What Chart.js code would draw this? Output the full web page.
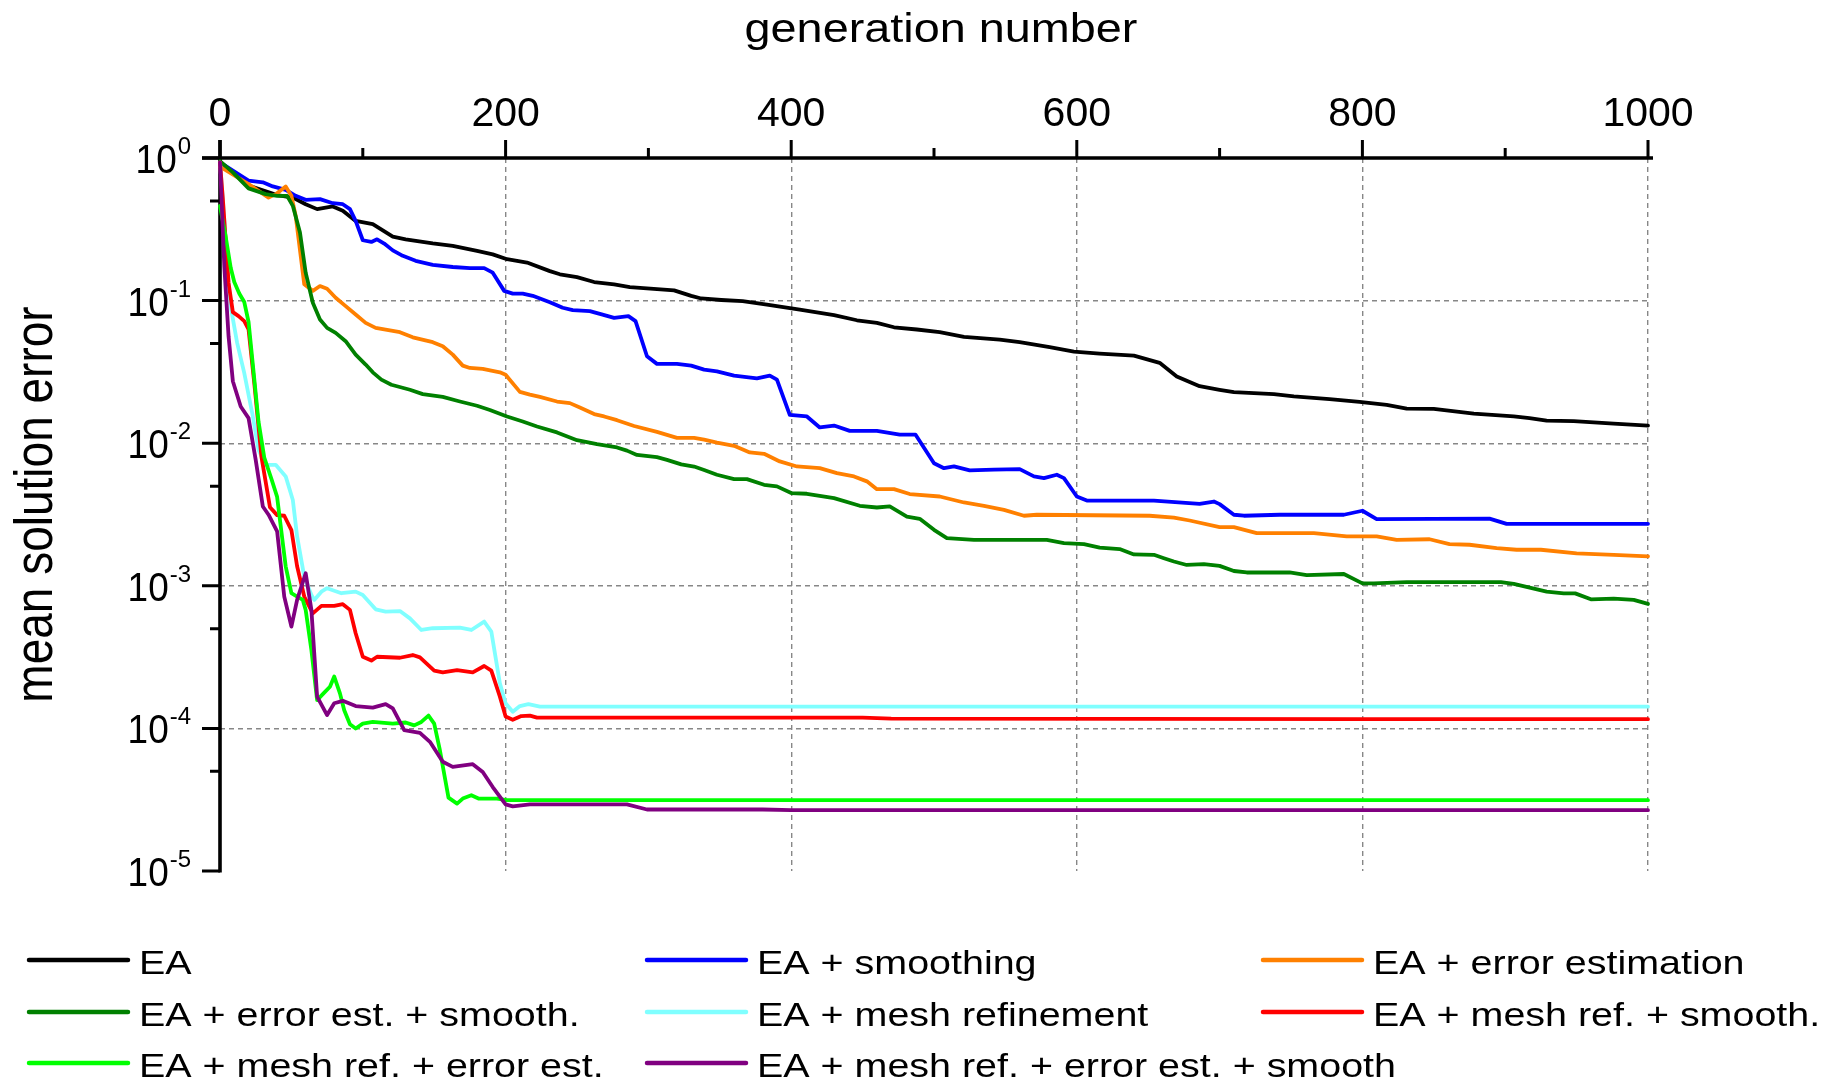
<!DOCTYPE html>
<html>
<head>
<meta charset="utf-8">
<script src="https://cdn.jsdelivr.net/npm/chart.js@4.4.1/dist/chart.umd.min.js"></script>
<style>
  html, body { margin: 0; padding: 0; background: #fff; }
  #wrap { width: 1841px; height: 1083px; }
</style>
</head>
<body>
<div id="wrap"><canvas id="chart" width="1841" height="1083"></canvas></div>
<script>
// mean solution error over the generations, one [generation, error] list per run
const runEA = [[0,0.933],[20,0.64],[40,0.55],[51,0.528],[60,0.474],[68,0.438],[79,0.457],[86,0.427],[95,0.362],[107,0.344],[121,0.281],[130,0.269],[149,0.252],[163,0.242],[180,0.223],[191,0.211],[201,0.195],[215,0.185],[231,0.161],[238,0.153],[250,0.146],[262,0.135],[276,0.130],[287,0.1245],[318,0.118],[330,0.108],[337,0.1035],[351,0.101],[366,0.0991],[383,0.0938],[406,0.0865],[430,0.0791],[446,0.0728],[460,0.0698],[472,0.0650],[488,0.0627],[504,0.0600],[521,0.0556],[546,0.0533],[560,0.0511],[581,0.0471],[598,0.0439],[616,0.0425],[640,0.0411],[658,0.0366],[670,0.0294],[686,0.0251],[700,0.0237],[710,0.0228],[738,0.0221],[752,0.0213],[777,0.0204],[798,0.0195],[817,0.0186],[831,0.0175],[850,0.0174],[878,0.0161],[906,0.0154],[917,0.0150],[929,0.0144],[948,0.0143],[976,0.0137],[1000,0.0133]];

const runSmooth = [[0,0.933],[9,0.815],[20,0.693],[30,0.675],[37,0.632],[46,0.598],[53,0.543],[60,0.509],[70,0.515],[79,0.482],[86,0.474],[91,0.438],[95,0.362],[100,0.265],[106,0.258],[110,0.269],[115,0.251],[121,0.225],[128,0.206],[137,0.190],[149,0.178],[163,0.172],[175,0.169],[185,0.169],[191,0.157],[199,0.117],[205,0.112],[212,0.112],[219,0.108],[231,0.0975],[240,0.0891],[247,0.0857],[259,0.0843],[266,0.0807],[276,0.0757],[286,0.0778],[291,0.0718],[299,0.0407],[306,0.0360],[320,0.0360],[330,0.0350],[339,0.0328],[348,0.0319],[360,0.0298],[376,0.0285],[385,0.0298],[390,0.0279],[399,0.0158],[411,0.0154],[420,0.0129],[430,0.0133],[441,0.0122],[460,0.0122],[476,0.0115],[487,0.0115],[500,0.00724],[507,0.00668],[514,0.00687],[525,0.00644],[542,0.00652],[560,0.00658],[570,0.00585],[577,0.00569],[586,0.00601],[591,0.00569],[600,0.00423],[607,0.00396],[654,0.00396],[686,0.00376],[696,0.00390],[700,0.00374],[710,0.00315],[717,0.0031],[742,0.00315],[787,0.00315],[800,0.00336],[810,0.00293],[889,0.00296],[901,0.00272],[1000,0.00272]];

const runErrEst = [[0,0.87],[20,0.656],[34,0.528],[39,0.558],[46,0.632],[50,0.543],[53,0.393],[59,0.130],[65,0.117],[70,0.1265],[75,0.121],[81,0.1047],[88,0.0914],[95,0.0800],[102,0.0698],[109,0.0644],[126,0.0600],[135,0.0553],[149,0.0511],[156,0.0479],[163,0.0418],[170,0.0350],[175,0.0337],[184,0.0332],[196,0.0314],[200,0.0302],[210,0.0229],[217,0.0219],[224,0.0211],[236,0.0196],[245,0.0191],[252,0.0178],[262,0.0160],[269,0.0154],[278,0.0145],[290,0.0132],[306,0.0120],[320,0.0109],[332,0.0109],[339,0.0106],[348,0.0101],[360,0.00959],[371,0.00861],[381,0.00843],[392,0.00745],[404,0.00687],[420,0.00668],[432,0.00617],[444,0.00585],[453,0.00540],[460,0.00476],[472,0.00476],[483,0.00440],[504,0.00423],[521,0.00384],[535,0.00364],[549,0.00341],[563,0.00310],[572,0.00315],[651,0.0031],[668,0.00301],[679,0.00287],[700,0.00258],[710,0.00258],[726,0.00234],[766,0.00234],[789,0.00222],[810,0.00222],[824,0.00210],[847,0.00212],[861,0.00196],[875,0.00194],[894,0.00184],[908,0.00179],[925,0.00179],[950,0.00169],[976,0.00165],[1000,0.00161]];

const runErrEstSmooth = [[0,0.95],[9,0.793],[20,0.612],[32,0.558],[40,0.543],[47,0.543],[51,0.462],[56,0.300],[60,0.157],[65,0.0966],[70,0.0738],[75,0.0644],[81,0.0594],[88,0.0519],[95,0.0418],[102,0.0356],[107,0.0314],[113,0.0279],[120,0.0257],[133,0.0237],[142,0.0221],[156,0.0211],[168,0.0196],[180,0.0183],[189,0.0171],[201,0.0154],[212,0.0142],[222,0.0131],[236,0.0119],[250,0.0105],[264,0.00984],[278,0.00933],[285,0.00887],[292,0.00828],[306,0.00798],[313,0.00764],[323,0.00711],[332,0.00686],[339,0.00649],[348,0.00601],[360,0.00560],[369,0.00560],[381,0.00511],[390,0.00498],[400,0.00447],[411,0.00442],[430,0.00412],[448,0.00364],[460,0.00354],[469,0.0036],[481,0.00306],[490,0.00295],[500,0.00247],[509,0.00216],[528,0.00210],[579,0.00210],[591,0.00199],[605,0.00196],[616,0.00185],[630,0.00181],[640,0.00166],[654,0.00165],[661,0.00156],[668,0.00148],[677,0.00140],[689,0.00142],[700,0.00138],[710,0.00127],[719,0.00124],[749,0.00124],[761,0.00119],[787,0.00121],[800,0.00104],[808,0.00104],[831,0.00106],[897,0.00106],[906,0.00103],[929,0.00091],[941,0.000885],[949,0.000885],[960,0.000804],[976,0.000813],[990,0.000796],[1000,0.000746]];

const runMesh = [[0,0.93],[2,0.515],[6,0.133],[8,0.085],[12,0.0505],[17,0.0310],[23,0.0154],[27,0.00897],[32,0.00705],[39,0.00705],[46,0.00585],[51,0.0040],[54,0.00222],[59,0.00116],[64,0.000863],[66,0.000796],[71,0.00091],[75,0.000962],[85,0.000887],[95,0.00091],[100,0.000863],[109,0.000684],[116,0.000659],[126,0.000665],[133,0.000591],[141,0.00049],[149,0.000504],[168,0.000509],[176,0.00049],[185,0.000561],[190,0.000477],[196,0.000207],[200,0.00015],[205,0.000131],[210,0.0001435],[216,0.000148],[224,0.000142],[1000,0.000142]];

const runMeshSmooth = [[0,0.93],[2,0.515],[6,0.133],[9,0.083],[13,0.0778],[17,0.0718],[20,0.0627],[24,0.0264],[29,0.00805],[35,0.00355],[40,0.00313],[45,0.0031],[50,0.00246],[54,0.00137],[59,0.000841],[65,0.000641],[71,0.000723],[80,0.000723],[86,0.000743],[91,0.000678],[95,0.000465],[100,0.000318],[106,0.000299],[110,0.000318],[126,0.000313],[135,0.000327],[140,0.000315],[150,0.000254],[156,0.000247],[166,0.000256],[177,0.000247],[185,0.000274],[190,0.000254],[196,0.000167],[200,0.000121],[205,0.000115],[211,0.000122],[217,0.000123],[222,0.000119],[450,0.000119],[470,0.000117],[800,0.000116],[1000,0.000116]];

const runMeshErrEst = [[0,0.462],[4,0.28],[7.5,0.17],[10,0.135],[13.5,0.112],[17,0.0977],[20,0.0708],[23,0.0355],[27,0.0141],[31,0.00794],[36,0.00562],[40,0.0042],[44,0.00199],[46,0.00137],[50,0.000887],[54,0.00084],[58,0.000796],[60,0.000676],[64,0.000355],[68,0.000158],[73,0.000178],[77,0.000196],[80,0.000231],[84,0.000176],[87,0.000134],[91,0.000107],[95,0.0000998],[100,0.000108],[107,0.000111],[121,0.000108],[130,0.00011],[136,0.000105],[141,0.000111],[146,0.000123],[150,0.000108],[154,0.0000703],[160,0.0000327],[166,0.0000297],[170,0.0000322],[176,0.000034],[181,0.0000322],[194,0.0000322],[201,0.0000314],[1000,0.0000314]];

const runAll = [[0,0.93],[3,0.175],[6,0.0562],[9,0.0272],[14.5,0.0181],[20,0.0150],[25,0.00764],[30,0.0036],[34,0.00315],[40,0.00241],[45,0.00084],[50,0.000518],[54,0.000796],[60,0.001225],[64,0.000678],[68,0.000167],[75,0.000124],[80,0.00015],[86,0.000156],[95,0.0001435],[107,0.00014],[116,0.000148],[121,0.000138],[129,0.0000973],[140,0.0000931],[147,0.0000805],[156,0.0000583],[163,0.0000537],[177,0.0000561],[184,0.0000495],[191,0.0000388],[200,0.0000293],[205,0.0000284],[217,0.0000293],[285,0.0000293],[299,0.000027],[380,0.000027],[400,0.0000267],[1000,0.0000267]];

const runs = [runEA, runSmooth, runErrEst, runErrEstSmooth, runMesh, runMeshSmooth, runMeshErrEst, runAll];
const runLabels = [
  'EA', 'EA + smoothing', 'EA + error estimation',
  'EA + error est. + smooth.', 'EA + mesh refinement', 'EA + mesh ref. + smooth.',
  'EA + mesh ref. + error est.', 'EA + mesh ref. + error est. + smooth'
];
const runColors = ['#000000', '#0000ff', '#ff8000', '#008000', '#80ffff', '#ff0000', '#00ff00', '#800080'];

const genMajor = [0, 200, 400, 600, 800, 1000];
const genMinor = [100, 300, 500, 700, 900];
const errDecades = [1, 1e-1, 1e-2, 1e-3, 1e-4, 1e-5];
const errExponents = ['0', '-1', '-2', '-3', '-4', '-5'];
const errMinor = [5e-1, 5e-2, 5e-3, 5e-4, 5e-5];
const xTitle = 'generation number';
const yTitle = 'mean solution error';

const FONT = '"Liberation Sans", Arial, sans-serif';
const GRID = '#878787';

function drawText(ctx, txt, x, y, size, sx, align, rotate) {
  ctx.save();
  ctx.translate(x, y);
  ctx.scale(sx, 1);
  if (rotate) ctx.rotate(-Math.PI / 2);
  ctx.font = size + 'px ' + FONT;
  ctx.textAlign = align;
  ctx.textBaseline = 'alphabetic';
  ctx.fillStyle = '#000';
  ctx.fillText(txt, 0, 0);
  ctx.restore();
}

// axis lines, tick marks, labels, titles and the 3-column legend
const framePlugin = {
  id: 'frame',
  beforeDatasetsDraw(chart) {
    const { ctx, scales: { x, y } } = chart;
    const top = y.getPixelForValue(1), bottom = y.getPixelForValue(1e-5);
    const left = x.getPixelForValue(0), right = x.getPixelForValue(1000);
    ctx.save();
    ctx.strokeStyle = '#000';
    ctx.lineWidth = 3.6;
    ctx.beginPath();
    ctx.moveTo(left - 18, top); ctx.lineTo(right + 5, top);
    ctx.moveTo(left, top - 18); ctx.lineTo(left, bottom + 1.5);
    ctx.stroke();
    ctx.lineWidth = 3;
    ctx.beginPath();
    genMajor.forEach(g => { const px = x.getPixelForValue(g); ctx.moveTo(px, top); ctx.lineTo(px, top - 18); });
    genMinor.forEach(g => { const px = x.getPixelForValue(g); ctx.moveTo(px, top); ctx.lineTo(px, top - 10); });
    errDecades.forEach(v => { const py = y.getPixelForValue(v); ctx.moveTo(left, py); ctx.lineTo(left - 18, py); });
    errMinor.forEach(v => { const py = y.getPixelForValue(v); ctx.moveTo(left, py); ctx.lineTo(left - 10, py); });
    ctx.stroke();
    ctx.restore();
  },
  afterDraw(chart) {
    const { ctx, scales: { x, y } } = chart;
    const top = y.getPixelForValue(1), bottom = y.getPixelForValue(1e-5);
    const left = x.getPixelForValue(0), right = x.getPixelForValue(1000);

    genMajor.forEach(g => drawText(ctx, String(g), x.getPixelForValue(g), top - 32, 41, 1, 'center'));

    errDecades.forEach((v, i) => {
      const py = y.getPixelForValue(v);
      ctx.font = '24px ' + FONT;
      const expW = ctx.measureText(errExponents[i]).width;
      const edge = 191 - expW;
      drawText(ctx, errExponents[i], edge, py - 4, 24, 1, 'left');
      drawText(ctx, '10', edge - 1, py + 15, 41, 0.9, 'right');
    });

    drawText(ctx, xTitle, (left + right) / 2 + 7, 42, 40, 1.17, 'center');
    drawText(ctx, yTitle, 52, (top + bottom) / 2 - 10, 46, 1.15, 'center', true);

    // legend
    const lineX = [29, 647, 1263];
    const textX = [139, 757, 1373];
    const rowY = [974, 1026, 1077];
    runLabels.forEach((lab, i) => {
      const col = i % 3, row = Math.floor(i / 3);
      const base = rowY[row];
      ctx.save();
      ctx.strokeStyle = runColors[i];
      ctx.lineWidth = 4.5;
      ctx.lineCap = 'round';
      ctx.beginPath();
      ctx.moveTo(lineX[col], base - 14);
      ctx.lineTo(lineX[col] + 99, base - 14);
      ctx.stroke();
      ctx.restore();
      drawText(ctx, lab, textX[col], base, 34, 1.16, 'left');
    });
  }
};

const datasets = runs.map((run, i) => ({
  label: runLabels[i],
  data: run.map(([g, e]) => ({ x: g, y: e })),
  borderColor: runColors[i],
  borderWidth: 3.8,
  pointRadius: 0,
  tension: 0,
  fill: false,
  clip: false,
  borderJoinStyle: 'round',
  borderCapStyle: 'round',
  order: runs.length - 1 - i
}));

new Chart(document.getElementById('chart'), {
  type: 'line',
  data: { datasets },
  plugins: [framePlugin],
  options: {
    responsive: false,
    animation: false,
    events: [],
    layout: { padding: { left: 220, top: 158, right: 193, bottom: 212 } },
    plugins: { legend: { display: false }, tooltip: { enabled: false } },
    scales: {
      x: {
        type: 'linear',
        position: 'top',
        min: 0,
        max: 1000,
        ticks: { display: false, stepSize: 200 },
        grid: {
          drawTicks: false,
          lineWidth: 1.4,
          color: c => (c.tick && c.tick.value === 0) ? 'rgba(0,0,0,0)' : GRID
        },
        border: { display: false, dash: [5, 4] }
      },
      y: {
        type: 'logarithmic',
        min: 1e-5,
        max: 1,
        afterBuildTicks: s => { s.ticks = errDecades.map(v => ({ value: v })); },
        ticks: { display: false },
        grid: {
          drawTicks: false,
          lineWidth: 1.4,
          color: c => (c.tick && (c.tick.value === 1 || c.tick.value === 1e-5)) ? 'rgba(0,0,0,0)' : GRID
        },
        border: { display: false, dash: [5, 4] }
      }
    }
  }
});
</script>
</body>
</html>
